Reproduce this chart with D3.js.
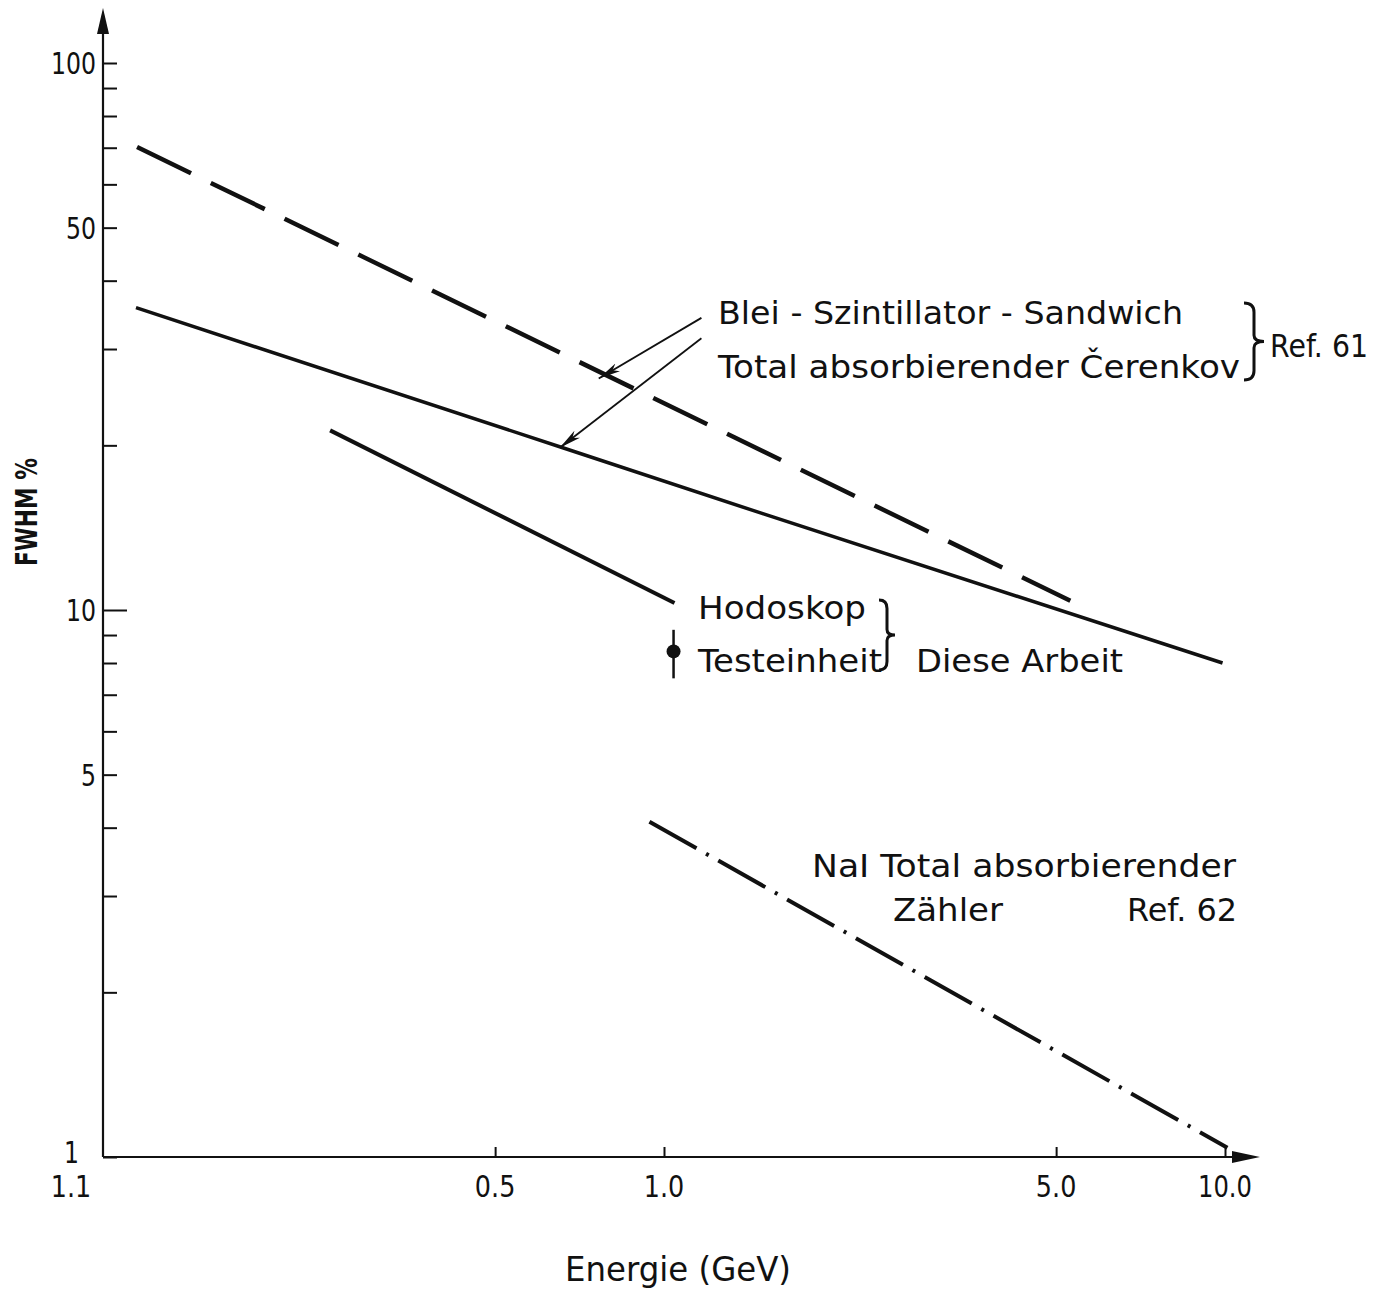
<!DOCTYPE html>
<html>
<head>
<meta charset="utf-8">
<script src="https://cdn.jsdelivr.net/npm/d3@7"></script>
<style>
  html, body { margin: 0; padding: 0; background: #fff; }
  svg text { font-family: "DejaVu Sans", "Liberation Sans", sans-serif; fill: #111; }
</style>
</head>
<body>
<svg id="chart" width="1391" height="1292"></svg>
<script>
// ---------------- data ----------------
const xTickValues = [0.1, 0.5, 1, 5, 10];
const xTickLabels = ["1.1", "0.5", "1.0", "5.0", "10.0"];
const yMajorTicks = [1, 5, 10, 50, 100];
const yMinorTicks = [2, 3, 4, 6, 7, 8, 9, 20, 30, 40, 60, 70, 80, 90];

// Blei-Szintillator-Sandwich (Ref. 61), dashed
const sandwichE = [0.115, 5.3];
const sandwichF = [70.2, 10.4];
// Total absorbierender Cerenkov (Ref. 61), solid
const cerenkovE = [0.1145, 0.66, 1.5, 9.9];
const cerenkovF = [35.7, 19.8, 15.0, 8.0];
// Hodoskop (Diese Arbeit), solid
const hodoskopE = [0.254, 1.044];
const hodoskopF = [21.3, 10.3];
// Testeinheit (Diese Arbeit), point with error bar
const testE = [1.04];
const testF = [8.4];
const testLo = [7.5];
const testHi = [9.2];
// NaI total absorbierender Zaehler (Ref. 62), dash-dot
const naiE = [0.942, 10.1];
const naiF = [4.1, 1.04];

// annotation arrows (data coords): [fromE, fromF, toE, toF]
const arrowSandwich = [1.166, 34.2, 0.765, 26.5];
const arrowCerenkov = [1.166, 31.4, 0.652, 19.8];

// ---------------- chart ----------------
const svg = d3.select("#chart");
const x = d3.scaleLog().domain([0.1, 10]).range([103, 1225]);
const y = d3.scaleLog().domain([1, 100]).range([1157, 63]);
const ink = "#111";

// axes lines
const axisG = svg.append("g");
axisG.append("line").attr("x1", x(0.1)).attr("y1", y(1)).attr("x2", x(0.1)).attr("y2", 22)
  .attr("stroke", ink).attr("stroke-width", 2.2);
axisG.append("path").attr("d", `M${x(0.1)},8 L${x(0.1)-6},34 L${x(0.1)+6},34 Z`).attr("fill", ink);
axisG.append("line").attr("x1", x(0.1)).attr("y1", y(1)).attr("x2", 1240).attr("y2", y(1))
  .attr("stroke", ink).attr("stroke-width", 2.2);
axisG.append("path").attr("d", `M1260,${y(1)} L1232,${y(1)-6} L1232,${y(1)+6} Z`).attr("fill", ink);

// y ticks
const yAxis = d3.axisRight(y).tickValues(yMajorTicks.concat(yMinorTicks)).tickSize(14).tickFormat("");
const yg = svg.append("g").attr("transform", `translate(${x(0.1)},0)`).call(yAxis);
yg.select(".domain").remove();
yg.selectAll(".tick line").attr("stroke", ink).attr("stroke-width", 2)
  .attr("x2", d => d === 10 ? 24 : 14);

// y tick labels
svg.append("g").selectAll("text").data(yMajorTicks).join("text")
  .attr("x", d => x(0.1) - (d === 1 ? 24 : 7)).attr("y", d => y(d)).attr("dy", d => d === 1 ? "0.2em" : "0.36em")
  .attr("text-anchor", "end").attr("font-size", 31)
  .attr("textLength", d => String(d).length * 15).attr("lengthAdjust", "spacingAndGlyphs")
  .text(d => d);

// x ticks
const xAxis = d3.axisTop(x).tickValues(xTickValues.slice(1)).tickSize(10).tickFormat("");
const xg = svg.append("g").attr("transform", `translate(0,${y(1)})`).call(xAxis);
xg.select(".domain").remove();
xg.selectAll(".tick line").attr("stroke", ink).attr("stroke-width", 2);

svg.append("g").selectAll("text").data(xTickValues).join("text")
  .attr("x", (d, i) => x(d) + (i === 0 ? -32 : 0)).attr("y", y(1) + 40)
  .attr("text-anchor", "middle").attr("font-size", 31)
  .attr("textLength", (d, i) => xTickLabels[i].length * 13.5).attr("lengthAdjust", "spacingAndGlyphs")
  .text((d, i) => xTickLabels[i]);

// axis titles
svg.append("text").attr("x", 678).attr("y", 1281).attr("text-anchor", "middle")
  .attr("font-size", 34).attr("textLength", 226).attr("lengthAdjust", "spacingAndGlyphs")
  .text("Energie (GeV)");
svg.append("text").attr("transform", "translate(37,512) rotate(-90)").attr("text-anchor", "middle")
  .attr("font-size", 30).attr("font-weight", "bold").attr("textLength", 108).attr("lengthAdjust", "spacingAndGlyphs")
  .text("FWHM %");

// ---------------- series ----------------
const line = d3.line().x(d => x(d[0])).y(d => y(d[1]));
const zip = (a, b) => a.map((v, i) => [v, b[i]]);

svg.append("path").datum(zip(sandwichE, sandwichF)).attr("d", line)
  .attr("fill", "none").attr("stroke", ink).attr("stroke-width", 4.5)
  .attr("stroke-dasharray", "60,22");
svg.append("path").datum(zip(cerenkovE, cerenkovF)).attr("d", line)
  .attr("fill", "none").attr("stroke", ink).attr("stroke-width", 3.5);
svg.append("path").datum(zip(hodoskopE, hodoskopF)).attr("d", line)
  .attr("fill", "none").attr("stroke", ink).attr("stroke-width", 4);
svg.append("path").datum(zip(naiE, naiF)).attr("d", line)
  .attr("fill", "none").attr("stroke", ink).attr("stroke-width", 4)
  .attr("stroke-dasharray", "54,11,3,11");

// test point
const pts = svg.append("g");
pts.selectAll("line").data(testE).join("line")
  .attr("x1", d => x(d)).attr("x2", d => x(d))
  .attr("y1", (d, i) => y(testHi[i])).attr("y2", (d, i) => y(testLo[i]))
  .attr("stroke", ink).attr("stroke-width", 2.5);
pts.selectAll("circle").data(testE).join("circle")
  .attr("cx", d => x(d)).attr("cy", (d, i) => y(testF[i])).attr("r", 7).attr("fill", ink);

// ---------------- annotations ----------------
svg.append("defs").append("marker").attr("id", "ah")
  .attr("viewBox", "0 0 22 10").attr("refX", 22).attr("refY", 5)
  .attr("markerWidth", 22).attr("markerHeight", 10).attr("markerUnits", "userSpaceOnUse")
  .attr("orient", "auto")
  .append("path").attr("d", "M0,0.5 L22,5 L0,9.5 L6,5 Z").attr("fill", ink);

[arrowSandwich, arrowCerenkov].forEach(a => {
  svg.append("line").attr("x1", x(a[0])).attr("y1", y(a[1])).attr("x2", x(a[2])).attr("y2", y(a[3]))
    .attr("stroke", ink).attr("stroke-width", 1.8).attr("marker-end", "url(#ah)");
});

function label(txt, px, py, w, size) {
  svg.append("text").attr("x", px).attr("y", py).attr("font-size", size || 32)
    .attr("textLength", w).attr("lengthAdjust", "spacingAndGlyphs").text(txt);
}
label("Blei - Szintillator - Sandwich", 718, 324, 465);
label("Total absorbierender Čerenkov", 718, 378, 522);
label("Ref. 61", 1270, 357, 98);
label("Hodoskop", 698, 619, 168);
label("Testeinheit", 698, 672, 184);
label("Diese Arbeit", 916, 672, 207);
label("NaI Total absorbierender", 812, 877, 424);
label("Zähler", 893, 921, 110);
label("Ref. 62", 1127, 921, 110);

function brace(bx, y0, y1, w) {
  const ym = (y0 + y1) / 2, h = y1 - y0, m = bx + w / 2;
  const d = `M${bx},${y0} Q${m},${y0} ${m},${y0 + h * 0.12} L${m},${ym - h * 0.08} Q${m},${ym} ${bx + w},${ym}` +
            ` Q${m},${ym} ${m},${ym + h * 0.08} L${m},${y1 - h * 0.12} Q${m},${y1} ${bx},${y1}`;
  svg.append("path").attr("d", d).attr("fill", "none").attr("stroke", ink).attr("stroke-width", 3);
}
brace(1244, 303, 380, 20);
brace(879, 600, 670, 16);
</script>
</body>
</html>
